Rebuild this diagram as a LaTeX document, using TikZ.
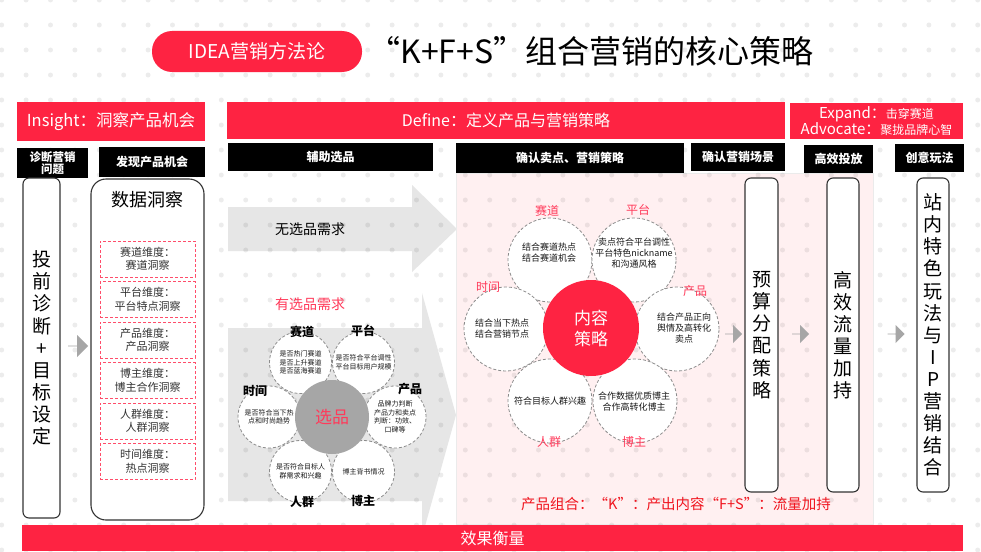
\documentclass[tikz,border=0pt]{standalone}
\usepackage{fontspec}
\setmainfont{Noto Sans CJK SC}
\usetikzlibrary{shapes.arrows}
\definecolor{mred}{HTML}{FE2342}
\definecolor{lred}{HTML}{FF3A5A}
\definecolor{tred}{HTML}{F0141E}
\definecolor{pinkbg}{HTML}{FFF0F1}
\definecolor{bigarrow}{HTML}{E6E6E6}
\definecolor{smarrow}{HTML}{A6A6A6}
\definecolor{petalline}{HTML}{8C8C8C}
\definecolor{boxline}{HTML}{333333}
\definecolor{dashred}{HTML}{FF4D6A}
\newcommand\fs[2]{\fontsize{#1}{#2}\selectfont}
\begin{document}
\begin{tikzpicture}[x=1pt,y=-1pt,
  every node/.style={inner sep=0pt,outer sep=0pt},
  redbar/.style={fill=mred,text=white,align=center},
  hdr/.style={fill=black,text=white,align=center,font=\fs{12}{13}\bfseries},
  vbox/.style={draw=boxline,line width=1.1pt,rounded corners=6pt,fill=white,align=center,font=\fs{19}{22.1}},
  dbox/.style={draw=dashred,dash pattern=on 3pt off 2pt,line width=0.9pt,fill=white,minimum width=95pt,minimum height=36pt,align=center,font=\fs{11}{13.5},text=black!80},
  petal/.style={circle,draw=petalline,dash pattern=on 3pt off 2pt,line width=0.8pt,fill=white},
  ptxt/.style={align=center,font=\fs{7}{8.5},text=black!90},
  ptxtb/.style={align=center,font=\fs{9}{11},text=black!90},
  plab/.style={font=\fs{12}{13}\bfseries},
  plabr/.style={font=\fs{12}{13},text=lred},
  sarrow/.style={single arrow,fill=smarrow,single arrow head extend=4pt,minimum height=17pt,minimum width=18pt},
]
\fill[white] (0,0) rectangle (981,551);
\useasboundingbox (0,0) rectangle (981,551);

% big gray arrows
\fill[bigarrow] (228,207) -- (412,207) -- (412,185) -- (457,229) -- (412,272) -- (412,251) -- (228,251) -- cycle;
\fill[bigarrow] (228,328) -- (422,328) -- (422,293) -- (456,415) -- (422,537) -- (422,501) -- (228,501) -- cycle;
% pink panel
\filldraw[fill=pinkbg,draw=black!8] (456,173) rectangle (873,524);
% dot grid
\foreach \i in {0,...,40}{\foreach \j in {0,...,22}{\fill[black,opacity=0.075] ({1.7+24.4*\i},{25*\j}) circle (2.5pt);}}

% title
\node[fill=mred,rounded corners=20pt,minimum width=210pt,minimum height=41pt,text=white,font=\fs{19}{20}] (pill) at (257,51.5) {IDEA营销方法论};
\node[font=\fs{32}{36}] (title) at (591,51) {“K+F+S”组合营销的核心策略};

% red header bars
\node[redbar,minimum width=188pt,minimum height=39pt,font=\fs{16.5}{18}] (insight) at (111,121.5) {Insight：洞察产品机会};
\node[redbar,minimum width=558pt,minimum height=37pt,font=\fs{16}{18}] (define) at (506,120.5) {Define：定义产品与营销策略};
\node[redbar,minimum width=173pt,minimum height=36pt,font=\fs{15}{16}] (expand) at (876.5,121) {Expand：{\fs{12}{16}击穿赛道}\\Advocate：{\fs{12}{16}聚拢品牌心智}};

% black headers
\node[hdr,minimum width=71pt,minimum height=30pt,font=\fs{11.5}{12.5}\bfseries] (h1) at (52.5,163) {诊断营销\\问题};
\node[hdr,minimum width=106pt,minimum height=30pt] (h2) at (152,162) {发现产品机会};
\node[hdr,minimum width=205pt,minimum height=28pt] (h3) at (330.5,157) {辅助选品};
\node[hdr,minimum width=228pt,minimum height=30pt] (h4) at (570,158) {确认卖点、营销策略};
\node[hdr,minimum width=94pt,minimum height=28pt] (h5) at (738,157) {确认营销场景};
\node[hdr,minimum width=69pt,minimum height=28pt] (h6) at (838.5,159) {高效投放};
\node[hdr,minimum width=69pt,minimum height=28pt] (h7) at (929.5,158) {创意玩法};

% left column
\node[vbox,minimum width=37pt,minimum height=340pt] (v1) at (41.5,348) {投\\前\\诊\\断\\+\\目\\标\\设\\定};
\node[sarrow,minimum height=20pt,minimum width=22pt,single arrow head extend=5pt] (a0) at (78,346) {};
\node[draw=boxline,line width=1.1pt,rounded corners=15pt,fill=white,minimum width=113pt,minimum height=341pt] (data) at (147.5,349.5) {};
\node[font=\fs{18}{20}] (datat) at (147.5,200) {数据洞察};
\node[dbox] (d1) at (147.5,259) {赛道维度：\\赛道洞察};
\node[dbox] (d2) at (147.5,299.5) {平台维度：\\平台特点洞察};
\node[dbox] (d3) at (147.5,340) {产品维度：\\产品洞察};
\node[dbox] (d4) at (147.5,380.5) {博主维度：\\博主合作洞察};
\node[dbox] (d5) at (147.5,421) {人群维度：\\人群洞察};
\node[dbox] (d6) at (147.5,461.5) {时间维度：\\热点洞察};

% arrow texts
\node[font=\fs{14}{16}] (n1) at (310,229) {无选品需求};
\node[font=\fs{14}{16},text=lred] (n2) at (310,304) {有选品需求};

% flower 1
\node[petal,minimum size=62pt,ptxt] (s1) at (300.5,362.5) {是否热门赛道\\是否上升赛道\\是否蓝海赛道};
\node[petal,minimum size=62pt,ptxt] (s2) at (363.5,362.5) {是否符合平台调性\\平台目标用户规模};
\node[petal,minimum size=62pt,ptxt] (s3) at (269,417) {是否符合当下热\\点和时尚趋势};
\node[petal,minimum size=62pt,ptxt] (s4) at (395,417) {品牌力判断\\产品力和卖点\\判断：功效、\\口碑等};
\node[petal,minimum size=62pt,ptxt] (s5) at (300.5,471.5) {是否符合目标人\\群需求和兴趣};
\node[petal,minimum size=62pt,ptxt] (s6) at (363.5,471.5) {博主背书情况};
\node[circle,fill=smarrow,minimum size=74pt,text=lred,font=\fs{17}{20}] (c1) at (332,417) {选品};
\node[plab] (l1) at (302,332) {赛道};
\node[plab] (l2) at (363,331) {平台};
\node[plab] (l3) at (255,391) {时间};
\node[plab] (l4) at (410,389) {产品};
\node[plab] (l5) at (302,502) {人群};
\node[plab] (l6) at (363,501) {博主};

% flower 2
\node[petal,minimum size=84pt] (q1) at (550,260) {};
\node[petal,minimum size=84pt] (q2) at (634,260) {};
\node[petal,minimum size=84pt] (q3) at (506,329) {};
\node[petal,minimum size=84pt] (q4) at (677,329) {};
\node[petal,minimum size=84pt] (q5) at (550,401) {};
\node[petal,minimum size=84pt] (q6) at (635,401) {};
\node[ptxtb] (t1) at (549,253) {结合赛道热点\\结合赛道机会};
\node[ptxtb] (t2) at (634,253) {卖点符合平台调性\\平台特色nickname\\和沟通风格};
\node[ptxtb] (t3) at (502,329) {结合当下热点\\结合营销节点};
\node[ptxtb] (t4) at (684,328) {结合产品正向\\舆情及高转化\\卖点};
\node[ptxtb] (t5) at (550,401) {符合目标人群兴趣};
\node[ptxtb] (t6) at (634,402) {合作数据优质博主\\合作高转化博主};
\node[circle,fill=mred,minimum size=96pt,text=white,align=center,font=\fs{17}{21}] (c2) at (591,328) {内容\\策略};
\node[plabr] (r1) at (547,211) {赛道};
\node[plabr] (r2) at (638,210) {平台};
\node[plabr] (r3) at (488,287) {时间};
\node[plabr] (r4) at (695,291) {产品};
\node[plabr] (r5) at (549,442) {人群};
\node[plabr] (r6) at (634,442) {博主};

% right columns
\node[sarrow] (a1) at (733.5,334) {};
\node[vbox,minimum width=33pt,minimum height=314pt] (v2) at (761.5,335) {预\\算\\分\\配\\策\\略};
\node[sarrow] (a2) at (800.5,334) {};
\node[vbox,minimum width=32pt,minimum height=314pt] (v3) at (843,335) {高\\效\\流\\量\\加\\持};
\node[sarrow] (a3) at (896,334) {};
\node[vbox,minimum width=32pt,minimum height=314pt] (v4) at (933,335) {站\\内\\特\\色\\玩\\法\\与\\I\\P\\营\\销\\结\\合};

% bottom
\node[font=\fs{14.5}{16},text=tred] (kfs) at (676,504) {产品组合：“K”：产出内容“F+S”：流量加持};
\node[fill=mred,minimum width=941pt,minimum height=26pt,text=white,font=\fs{16}{17}] (eval) at (492.5,538) {效果衡量};
\end{tikzpicture}
\end{document}
